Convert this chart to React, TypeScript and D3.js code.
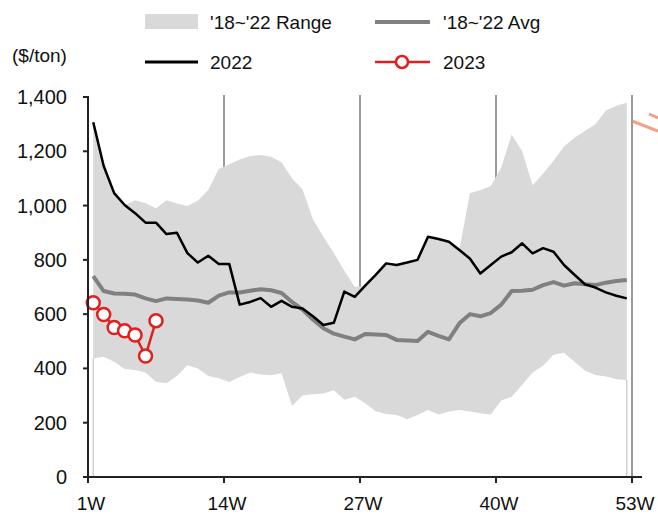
import React from 'react';
import * as d3 from 'd3';

// weekly values, week 1..52
const rangeHigh = [
  1307, 1146, 1046, 1002, 1020, 1009, 990, 1020, 1008, 998, 1018, 1058, 1135,
  1152, 1170, 1183, 1186, 1180, 1160, 1100, 1060, 950, 885, 825, 760, 700,
  705, 745, 787, 781, 790, 800, 885, 877, 867, 836, 1045, 1057, 1072, 1140,
  1262, 1200, 1075, 1118, 1165, 1218, 1250, 1275, 1300, 1350, 1368, 1379,
];
const rangeLow = [
  437, 443, 425, 398, 394, 385, 351, 345, 372, 412, 400, 372, 364, 350, 368,
  385, 378, 375, 382, 262, 300, 305, 308, 320, 285, 296, 272, 242, 232, 228,
  213, 228, 247, 230, 241, 247, 241, 235, 230, 282, 296, 340, 385, 410, 450,
  458, 425, 392, 376, 370, 360, 357,
];
const avg = [
  740, 685, 676, 675, 672, 658, 648, 658, 656, 654, 650, 642, 668, 680, 680,
  686, 692, 688, 678, 645, 617, 580, 548, 528, 517, 507, 527, 525, 523, 505,
  503, 501, 535, 520, 507, 566, 600, 592, 604, 635, 685, 686, 690, 707, 718,
  705, 714, 710, 707, 716, 722, 726,
];
const y2022 = [
  1307, 1146, 1046, 1002, 972, 937, 937, 895, 900, 825, 790, 815, 785, 785,
  635, 645, 659, 627, 649, 627, 621, 592, 560, 568, 683, 664, 705, 745, 787,
  781, 790, 800, 885, 877, 867, 836, 805, 750, 781, 812, 828, 861, 824, 843,
  830, 781, 745, 710, 698, 680, 668, 658,
];
const y2023 = [642, 599, 551, 539, 523, 446, 576];

const xTickWeeks = [1, 14, 27, 40, 53];
const xTickLabels = ['1W', '14W', '27W', '40W', '53W'];
const yTicks = [0, 200, 400, 600, 800, 1000, 1200, 1400];

const W = 658;
const H = 519;
const font = '"Liberation Sans", Arial, sans-serif';

export default function App() {
  const x = d3.scaleLinear().domain([1, 53]).range([88, 632]);
  const y = d3.scaleLinear().domain([0, 1400]).range([477, 97]);
  // data points sit in the middle of each week slot
  const px = (i: number) => x(i + 1.5);

  // stacked look: grey up to the high, white up to the low
  const areaTo = (vals: number[]) =>
    d3
      .area<number>()
      .x((_, i) => px(i))
      .y0(y(0))
      .y1((d) => y(d))(vals) || '';
  const line = d3
    .line<number>()
    .x((_, i) => px(i))
    .y((d) => y(d));

  const fmt = d3.format(',');

  return (
    <svg
      width={W}
      height={H}
      style={{ position: 'absolute', left: 0, top: 0, background: '#fff' }}
      fontFamily={font}
    >
      {/* legend */}
      <g fontSize={19} fill="#111">
        <rect x={145} y={14} width={53} height={15} fill="#d9d9d9" />
        <text x={210} y={29}>'18~'22 Range</text>
        <line x1={375} x2={430} y1={22} y2={22} stroke="#808080" strokeWidth={4} />
        <text x={443} y={29}>'18~'22 Avg</text>
        <text x={12} y={62}>($/ton)</text>
        <line x1={145} x2={198} y1={62} y2={62} stroke="#000" strokeWidth={3} />
        <text x={210} y={69}>2022</text>
        <line x1={375} x2={430} y1={62} y2={62} stroke="#e0201f" strokeWidth={2.5} />
        <circle cx={402} cy={62} r={6} fill="#fff" stroke="#e0201f" strokeWidth={2.5} />
        <text x={443} y={69}>2023</text>
      </g>

      {/* vertical week markers */}
      {xTickWeeks.slice(1).map((w) => (
        <line key={w} x1={x(w)} x2={x(w)} y1={95} y2={477} stroke="#9a9a9a" strokeWidth={2} />
      ))}

      <path d={areaTo(rangeHigh)} fill="#d9d9d9" />
      <path d={areaTo(rangeLow)} fill="#fff" />
      {[0, rangeHigh.length - 1].map((i) => (
        <line key={i} x1={px(i)} x2={px(i)} y1={y(rangeLow[i])} y2={477} stroke="#d0d0d0" strokeWidth={1.5} />
      ))}

      <path d={line(avg) || ''} fill="none" stroke="#808080" strokeWidth={4} strokeLinejoin="round" />
      <path d={line(y2022) || ''} fill="none" stroke="#000" strokeWidth={2.5} strokeLinejoin="round" />
      <path d={line(y2023) || ''} fill="none" stroke="#e0201f" strokeWidth={2.5} />
      {y2023.map((v, i) => (
        <circle key={i} cx={px(i)} cy={y(v)} r={6.5} fill="#fff" stroke="#e0201f" strokeWidth={2.5} />
      ))}

      {/* axes */}
      <g stroke="#222" strokeWidth={2}>
        <line x1={88} x2={88} y1={96} y2={478} />
        <line x1={83} x2={642} y1={477} y2={477} />
        {yTicks.map((t) => (
          <line key={t} x1={83} x2={88} y1={y(t)} y2={y(t)} />
        ))}
        {xTickWeeks.map((w) => (
          <line key={w} x1={x(w)} x2={x(w)} y1={477} y2={483} />
        ))}
      </g>
      <g fontSize={20} fill="#111" textAnchor="end">
        {yTicks.map((t) => (
          <text key={t} x={67} y={y(t) + 7}>
            {fmt(t)}
          </text>
        ))}
      </g>
      <g fontSize={19} fill="#111" textAnchor="middle">
        {xTickWeeks.map((w, i) => (
          <text key={w} x={x(w) + 3} y={510}>
            {xTickLabels[i]}
          </text>
        ))}
      </g>

      {/* cropped neighbouring artwork at right edge */}
      <g stroke="#f08a6a" strokeWidth={3} opacity={0.8}>
        <line x1={632} y1={121} x2={658} y2={131} />
        <line x1={649} y1={114} x2={658} y2={118} />
      </g>
    </svg>
  );
}
